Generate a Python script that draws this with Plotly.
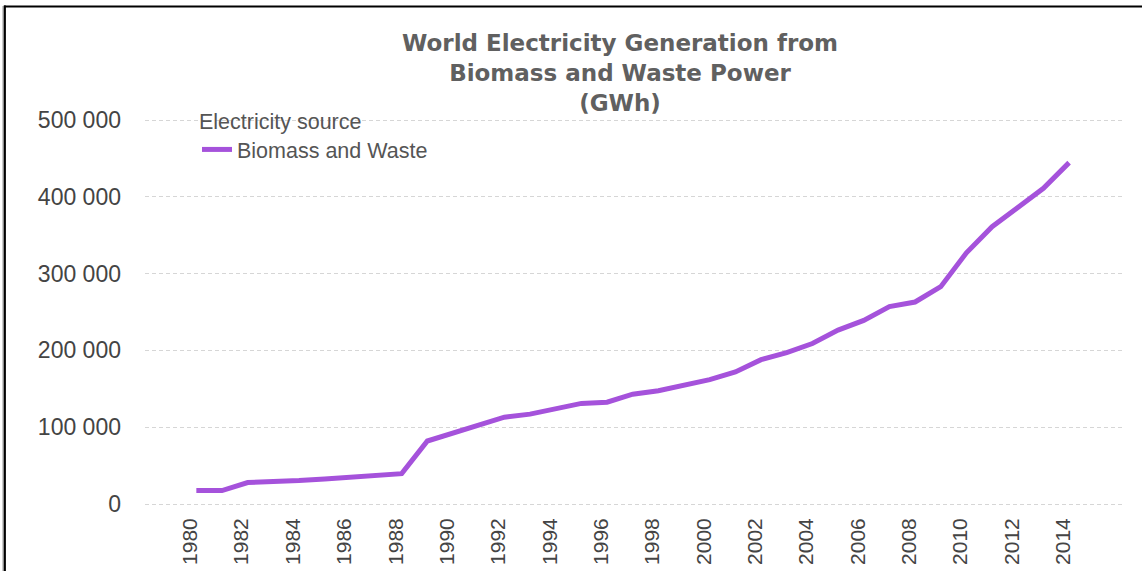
import plotly.graph_objects as go

years = list(range(1980, 2015))
generation_gwh = [17500, 17500, 28000, 28500, 30500, 32500, 34500, 37000, 39500, 82000,
                  92500, 103000, 113000, 117000, 124000, 131000, 132500, 143000, 147500, 155000,
                  162000, 172000, 188000, 197000, 209000, 226500, 239000, 257000, 263000, 283000,
                  327000, 361000, 386000, 411000, 444500]
series_name = "Biomass and Waste"
legend_title = "Electricity source"
title_lines = ["World Electricity Generation from", "Biomass and Waste Power", "(GWh)"]
x_ticks = list(range(1980, 2015, 2))
y_ticks = [0, 100000, 200000, 300000, 400000, 500000]

W, H = 1142, 571
pad_top, pad_bot = 10, 3  # px of y-range padding above 500 000 and below 0
ML, MR = 145, 19
MT, MB = 120 - pad_top, 571 - 504 - pad_bot
dw = W - ML - MR
dh = H - MT - MB
per_px = 500000 / (dh - pad_top - pad_bot)

fig = go.Figure()
fig.add_trace(go.Scatter(
    x=years, y=generation_gwh, mode="lines", name=series_name,
    line=dict(color="#a552db", width=5), showlegend=True,
))

def px_x(p):
    return (p - ML) / dw

def px_y(p):
    return (H - MB - p) / dh

fig.update_layout(
    width=W, height=H,
    margin=dict(l=ML, r=MR, t=MT, b=MB, autoexpand=False),
    paper_bgcolor="white", plot_bgcolor="white",
    separators=". ",
    title=dict(text="<br>".join(title_lines), x=620 / W, xanchor="center", xref="container",
               y=1 - 51 / H, yanchor="top", yref="container",
               font=dict(family="DejaVu Sans", size=23, color="#606060", weight="bold")),
    legend=dict(title=dict(text=legend_title, font=dict(family="Liberation Sans, Arial", size=21.5, color="#555555")),
                font=dict(family="Liberation Sans, Arial", size=21.5, color="#555555"),
                x=px_x(197), y=px_y(101), xanchor="left", yanchor="top",
                bgcolor="rgba(0,0,0,0)", itemwidth=30),
    showlegend=True,
    xaxis=dict(range=[1978.0, 2016.1], tickmode="array", tickvals=x_ticks,
               ticktext=[str(v) for v in x_ticks], tickangle=-90,
               showgrid=False, zeroline=False, showline=False, ticks="",
               ticklabelstandoff=6, ticklabelshift=-6, automargin=False,
               tickfont=dict(family="Liberation Sans, Arial", size=21, color="#444444")),
    yaxis=dict(range=[-pad_bot * per_px, 500000 + pad_top * per_px], tickmode="array", tickvals=y_ticks,
               tickformat=",d",
               showgrid=True, gridcolor="#d6d6d6", gridwidth=1, griddash="4px,3px",
               zeroline=False, showline=False, ticks="", ticklabelstandoff=23, automargin=False,
               tickfont=dict(family="Liberation Sans, Arial", size=23, color="#444444")),
    shapes=[
        dict(type="line", xref="paper", yref="paper", x0=px_x(3), x1=px_x(3), y0=px_y(6), y1=px_y(600),
             line=dict(color="#bbbbbb", width=1.5)),
        dict(type="line", xref="paper", yref="paper", x0=px_x(4.8), x1=px_x(4.8), y0=px_y(5.5), y1=px_y(600),
             line=dict(color="black", width=2.2)),
        dict(type="line", xref="paper", yref="paper", x0=px_x(4), x1=px_x(1150), y0=px_y(6.5), y1=px_y(6.5),
             line=dict(color="black", width=2.2)),
    ],
)

fig.write_html("out.html", config={"displayModeBar": False},
               post_script="document.body.style.margin='0px';")
